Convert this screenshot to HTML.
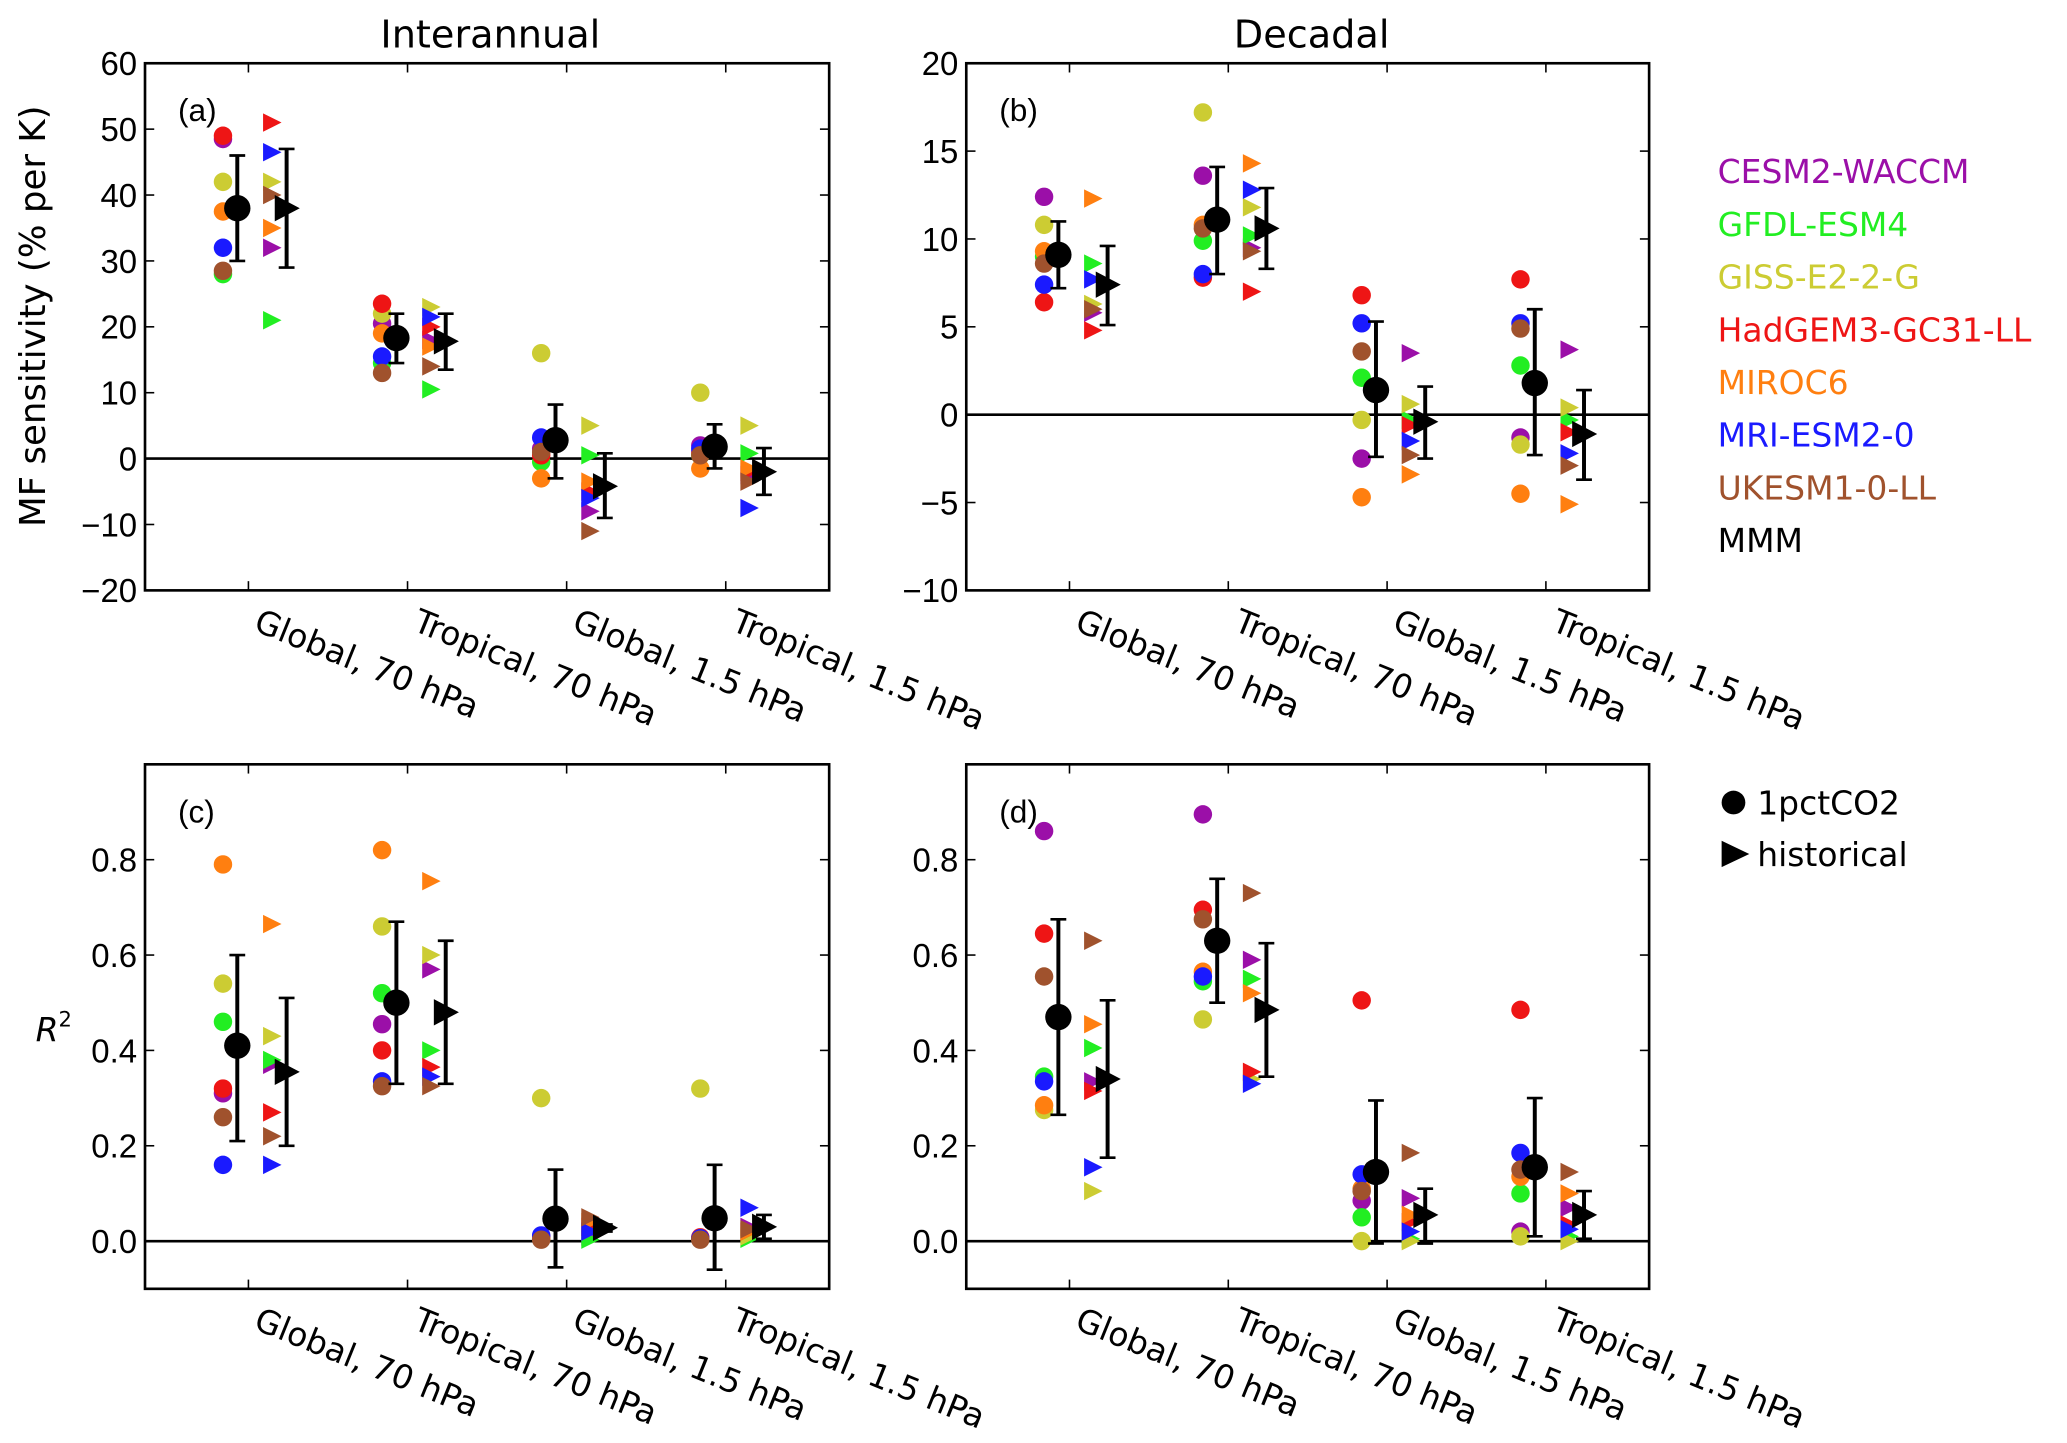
<!DOCTYPE html>
<html><head><meta charset="utf-8"><style>
html,body{margin:0;padding:0;background:#fff}
svg{display:block}
text{font-family:"Liberation Sans",sans-serif;fill:#000}
.dv{font-family:"DejaVu Sans",sans-serif}
</style></head><body>
<svg id="fig" width="2067" height="1443" viewBox="0 0 1568 1095" preserveAspectRatio="none" xmlns="http://www.w3.org/2000/svg">
<rect x="0" y="0" width="1568" height="1095" fill="#fff"/>
<text x="372" y="36" font-size="29" text-anchor="middle" class="dv">Interannual</text>
<text x="995" y="36" font-size="29" text-anchor="middle" class="dv">Decadal</text>
<text transform="translate(34,240) rotate(-90)" font-size="27" text-anchor="middle" class="dv">MF sensitivity (% per K)</text>
<text x="27" y="790" font-size="25" font-style="italic" class="dv">R<tspan dy="-11" font-size="16" font-style="normal">2</tspan></text>
<g id="legend"></g>
<g>
<circle cx="1315" cy="609" r="9" fill="#000"/>
<text x="1333" y="618" font-size="25" class="dv">1pctCO2</text>
<polygon points="1306,638 1327,648 1306,658" fill="#000"/>
<text x="1333" y="657" font-size="25" class="dv">historical</text>
</g>
</svg>
<script>
const models = ["CESM2-WACCM","GFDL-ESM4","GISS-E2-2-G","HadGEM3-GC31-LL","MIROC6","MRI-ESM2-0","UKESM1-0-LL"];
const colors = ["#9b0fa8","#22ee22","#cccc33","#ee1515","#ff7f10","#1a1aff","#a0522d"];
const categories = ["Global, 70 hPa","Tropical, 70 hPa","Global, 1.5 hPa","Tropical, 1.5 hPa"];
const aCirc = [[48.5,28,42,49,37.5,32,28.5],[20.5,14.5,22,23.5,19,15.5,13],[1.5,-0.5,16,0.5,-3,3.2,1],[2,0.5,10,1,-1.5,1.5,0.5]];
const aTri  = [[32,21,42,51,35,46.5,40],[18,10.5,23,20,17,21.5,14],[-8,0.5,5,-5,-3.5,-6,-11],[-2.5,0.8,5,-2,-1.5,-7.5,-3.5]];
const aMMMc = [38,18.3,2.8,1.8], aErrC = [[30,46],[14.5,22],[-3,8.2],[-1.5,5.2]];
const aMMMt = [38,17.8,-4.2,-2], aErrT = [[29,47],[13.5,22],[-9,0.8],[-5.5,1.6]];
const bCirc = [[12.4,9,10.8,6.4,9.3,7.4,8.6],[13.6,9.9,17.2,7.8,10.8,8,10.6],[-2.5,2.1,-0.3,6.8,-4.7,5.2,3.6],[-1.3,2.8,-1.7,7.7,-4.5,5.2,4.9]];
const bTri  = [[5.8,8.6,6.3,4.8,12.3,7.7,6],[9.5,10.2,11.8,7,14.3,12.8,9.3],[3.5,-0.3,0.6,-0.6,-3.4,-1.5,-2.3],[3.7,-0.3,0.4,-1,-5.1,-2.2,-2.9]];
const bMMMc = [9.1,11.1,1.4,1.8], bErrC = [[7.2,11],[8,14.1],[-2.4,5.3],[-2.3,6]];
const bMMMt = [7.4,10.6,-0.4,-1.1], bErrT = [[5.1,9.6],[8.3,12.9],[-2.5,1.6],[-3.7,1.4]];
const cCirc = [[0.31,0.46,0.54,0.32,0.79,0.16,0.26],[0.455,0.52,0.66,0.40,0.82,0.335,0.325],[0.008,0.005,0.30,0.01,0.005,0.012,0.003],[0.006,0.005,0.32,0.008,0.005,0.006,0.003]];
const cTri  = [[0.37,0.38,0.43,0.27,0.665,0.16,0.22],[0.57,0.40,0.60,0.365,0.755,0.345,0.325],[0.01,0.003,0.02,0.03,0.04,0.02,0.05],[0.03,0.005,0.01,0.02,0.02,0.07,0.025]];
const cMMMc = [0.41,0.50,0.047,0.048], cErrC = [[0.21,0.60],[0.33,0.67],[-0.055,0.15],[-0.06,0.16]];
const cMMMt = [0.355,0.48,0.028,0.03], cErrT = [[0.2,0.51],[0.33,0.63],[0.02,0.035],[0.005,0.055]];
const dCirc = [[0.86,0.345,0.275,0.645,0.285,0.335,0.555],[0.895,0.545,0.465,0.695,0.565,0.555,0.675],[0.085,0.05,0.0,0.505,0.11,0.14,0.105],[0.02,0.10,0.01,0.485,0.135,0.185,0.15]];
const dTri  = [[0.335,0.405,0.105,0.315,0.455,0.155,0.63],[0.59,0.55,0.34,0.355,0.52,0.33,0.73],[0.09,0.005,0.0,0.04,0.055,0.02,0.185],[0.07,0.01,0.0,0.035,0.10,0.025,0.145]];
const dMMMc = [0.47,0.63,0.145,0.155], dErrC = [[0.265,0.675],[0.50,0.76],[-0.005,0.295],[0.01,0.30]];
const dMMMt = [0.34,0.485,0.055,0.055], dErrT = [[0.175,0.505],[0.345,0.625],[-0.005,0.11],[0.005,0.105]];
const aTicks = [60,50,40,30,20,10,0,-10,-20];
const bTicks = [20,15,10,5,0,-5,-10];
const rTicks = [0.0,0.2,0.4,0.6,0.8];

const NS="http://www.w3.org/2000/svg";
const svg=document.getElementById('fig');
function mk(tag,attrs,parent){const e=document.createElementNS(NS,tag);for(const k in attrs)e.setAttribute(k,attrs[k]);(parent||svg).appendChild(e);return e;}
function fmtTick(v,dec){let s=dec?v.toFixed(1):String(v);return s.replace('-','\u2212');}

function panel(name,x0,x1,y0,y1,ymin,ymax,ticks,dec,circ,tri,mc,ec,mt,et,letter){
  const g=mk('g',{});
  
  
  const sx=c=>x0+(c+0.65)/4.3*(x1-x0);
  const sy=v=>y1-(v-ymin)/(ymax-ymin)*(y1-y0);
  const zl=mk('line',{x1:x0,x2:x1,y1:sy(0),y2:sy(0),stroke:'#000','stroke-width':2},g);
  
  
  ticks.forEach(t=>{
    const y=sy(t);
    const l1=mk('line',{x1:x0,x2:x0+7,y1:y,y2:y,stroke:'#000','stroke-width':1.2},g);
    
    
    const l2=mk('line',{x1:x1-7,x2:x1,y1:y,y2:y,stroke:'#000','stroke-width':1.2},g);
    
    
    const tx=mk('text',{x:x0-6,y:y+9,'font-size':25,'text-anchor':'end'},g);
    tx.textContent=fmtTick(t,dec);
    
    
  });
  categories.forEach((c,i)=>{
    const x=sx(i);
    const t1=mk('line',{x1:x,x2:x,y1:y0,y2:y0+7,stroke:'#000','stroke-width':1.2},g);
    
    
    const t2=mk('line',{x1:x,x2:x,y1:y1-7,y2:y1,stroke:'#000','stroke-width':1.2},g);
    
    
    const tx=mk('text',{transform:`translate(${x+3},${y1+30}) rotate(22)`,'font-size':25,'class':'dv'},g);
    tx.textContent=c;
    
    
  });
  categories.forEach((c,i)=>{
    const xc=sx(i-0.16), xt=sx(i+0.15);
    models.forEach((m,k)=>{
      const ci=mk('circle',{cx:xc,cy:sy(circ[i][k]),r:7,fill:colors[k]},g);
      
      
    });
    models.forEach((m,k)=>{
      const y=sy(tri[i][k]);
      const tr=mk('polygon',{points:`${xt-7},${y-7} ${xt+7},${y} ${xt-7},${y+7}`,fill:colors[k]},g);
      
      
    });
    [[sx(i-0.07),mc[i],ec[i],'circ'],[sx(i+0.24),mt[i],et[i],'tri']].forEach(([x,v,e,kind])=>{
      const eb=mk('g',{},g);
      
      
      mk('line',{x1:x,x2:x,y1:sy(e[0]),y2:sy(e[1]),stroke:'#000','stroke-width':3},eb);
      mk('line',{x1:x-6,x2:x+6,y1:sy(e[0]),y2:sy(e[0]),stroke:'#000','stroke-width':2},eb);
      mk('line',{x1:x-6,x2:x+6,y1:sy(e[1]),y2:sy(e[1]),stroke:'#000','stroke-width':2},eb);
      const y=sy(v);
      let mm;
      if(kind==='circ'){mm=mk('circle',{cx:x,cy:y,r:10,fill:'#000'},g);
        }
      else{mm=mk('polygon',{points:`${x-9},${y-10} ${x+10},${y} ${x-9},${y+10}`,fill:'#000'},g);
        }
      
    });
  });
  const fr=mk('rect',{x:x0,y:y0,width:x1-x0,height:y1-y0,fill:'none',stroke:'#000','stroke-width':2},g);
  
  
  const lt=mk('text',{x:x0+25,y:y0+44,'font-size':24},g);
  lt.textContent=letter;
  
  
}
panel('a',110,629,48,448,-20,60,aTicks,false,aCirc,aTri,aMMMc,aErrC,aMMMt,aErrT,'(a)');
panel('b',733,1251,48,448,-10,20,bTicks,false,bCirc,bTri,bMMMc,bErrC,bMMMt,bErrT,'(b)');
panel('c',110,629,580,978,-0.1,1.0,rTicks,true,cCirc,cTri,cMMMc,cErrC,cMMMt,cErrT,'(c)');
panel('d',733,1251,580,978,-0.1,1.0,rTicks,true,dCirc,dTri,dMMMc,dErrC,dMMMt,dErrT,'(d)');

const lg=document.getElementById('legend');
models.concat(["MMM"]).forEach((m,k)=>{
  const t=mk('text',{x:1303,y:139+k*40,'font-size':25,'class':'dv'},lg);
  t.style.fill=k<7?colors[k]:'#000';
  t.textContent=m;
  
  
});
</script>
</body></html>
